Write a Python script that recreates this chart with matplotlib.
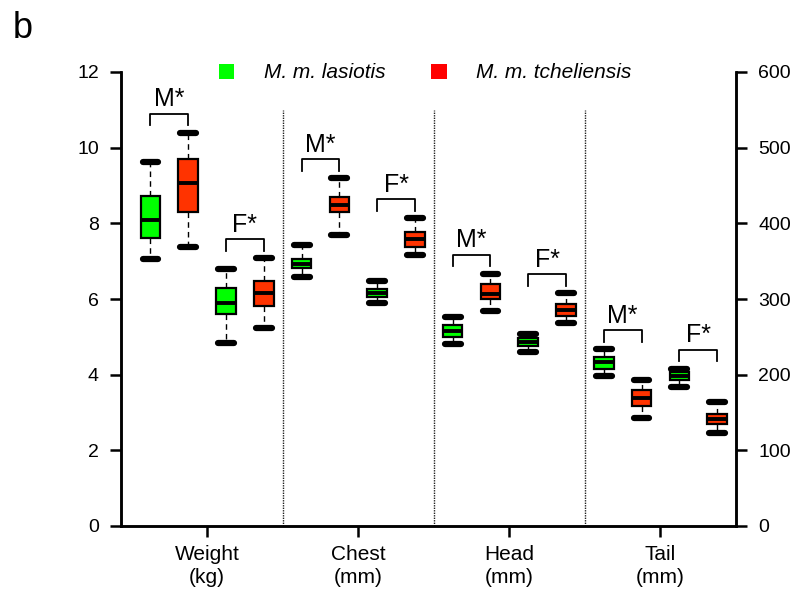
import matplotlib
matplotlib.use("Agg")
import matplotlib.pyplot as plt
from matplotlib.patches import Patch

plt.rcParams['font.family'] = ['Liberation Sans', 'DejaVu Sans']

categories = ['Weight\n(kg)', 'Chest\n(mm)', 'Head\n(mm)', 'Tail\n(mm)']
species = ['M. m. lasiotis', 'M. m. tcheliensis']
sexes = ['M*', 'F*']

# box stats per category: [whislo, q1, med, q3, whishi]
# order: lasiotis M, tcheliensis M, lasiotis F, tcheliensis F
weight_kg = [
    [7.05, 7.60, 8.09, 8.72, 9.61],
    [7.37, 8.29, 9.06, 9.70, 10.40],
    [4.85, 5.60, 5.89, 6.30, 6.80],
    [5.23, 5.81, 6.16, 6.48, 7.08],
]
chest_mm = [
    [328.5, 340.5, 346.5, 353.5, 372.0],
    [384.5, 415.5, 424.5, 435.0, 459.5],
    [294.5, 302.5, 308.0, 313.5, 324.0],
    [358.0, 369.0, 379.0, 388.5, 406.5],
]
head_mm = [
    [241.0, 250.0, 258.0, 266.0, 276.5],
    [284.0, 299.5, 307.0, 320.0, 333.5],
    [230.0, 238.0, 243.5, 249.0, 254.0],
    [268.5, 278.0, 285.5, 294.0, 308.0],
]
tail_mm = [
    [198.0, 208.0, 216.5, 224.0, 233.5],
    [143.0, 158.5, 169.0, 180.0, 193.0],
    [183.5, 192.5, 198.5, 203.5, 208.0],
    [123.5, 134.5, 141.0, 148.5, 163.5],
]

box_colors = ['#00ff00', '#ff3300', '#00ff00', '#ff3300']
legend_colors = ['#00ff00', '#ff0000']
offsets = [-0.375, -0.125, 0.125, 0.375]

fig = plt.figure(figsize=(7.95, 5.89), dpi=100)
ax = fig.add_axes([121 / 795, 1 - 526 / 589, 615 / 795, 454 / 589])
ax2 = ax.twinx()


def draw_group(axis, i, data, scale):
    stats = []
    for d in data:
        stats.append({'whislo': d[0], 'q1': d[1], 'med': d[2], 'q3': d[3],
                      'whishi': d[4], 'fliers': []})
    pos = [i + o for o in offsets]
    bp = axis.bxp(stats, positions=pos, widths=0.13, patch_artist=True,
                  showfliers=False, manage_ticks=False,
                  boxprops=dict(edgecolor='black', linewidth=1.6),
                  medianprops=dict(color='black', linewidth=2.8),
                  whiskerprops=dict(color='black', linewidth=1.0, linestyle=(0, (4, 3))),
                  capprops=dict(color='black', linewidth=4.5, solid_capstyle='round'),
                  capwidths=0.105)
    for patch, c in zip(bp['boxes'], box_colors):
        patch.set_facecolor(c)
    # significance brackets
    for k in range(2):
        top = max(data[2 * k][4], data[2 * k + 1][4]) + 0.5 * scale
        x0, x1 = pos[2 * k], pos[2 * k + 1]
        axis.plot([x0, x0, x1, x1], [top - 0.31 * scale, top, top, top - 0.31 * scale],
                  color='black', linewidth=1.3, clip_on=False)
        axis.text((x0 + x1) / 2, top + 0.06 * scale, sexes[k], ha='center',
                  va='bottom', fontsize=18)


draw_group(ax, 0, weight_kg, 1)
for i, d in enumerate([chest_mm, head_mm, tail_mm], start=1):
    draw_group(ax2, i, d, 50)

for xd in [0.5, 1.5, 2.5]:
    ax.plot([xd, xd], [0, 11], color='#222222', linewidth=1.0, linestyle=(0, (1, 0.8)))

ax.set_xlim(-0.57, 3.5)
ax.set_ylim(0, 12)
ax2.set_ylim(0, 600)
ax.set_yticks(range(0, 13, 2))
ax2.set_yticks(range(0, 601, 100))
ax.set_xticks(range(4))
ax.set_xticklabels(categories, fontsize=15, linespacing=1.25)

for a in (ax, ax2):
    a.spines['top'].set_visible(False)
    for s in a.spines.values():
        s.set_linewidth(1.8)
    a.tick_params(axis='both', length=8, width=1.8, labelsize=14, pad=6)
ax.tick_params(axis='x', labelsize=15)
ax.tick_params(axis='y', pad=8)
ax2.tick_params(axis='y', pad=8)

handles = [Patch(facecolor=c, edgecolor='none') for c in legend_colors]
leg = fig.legend(handles, species, loc='center', bbox_to_anchor=(425 / 795, 1 - 73 / 589),
                 ncol=2, frameon=False, handlelength=0.75, handleheight=0.75,
                 handletextpad=1.4, columnspacing=2.2, borderpad=0,
                 prop={'size': 15, 'style': 'italic'})

fig.text(13 / 795, 1 - 11 / 589, 'b', fontsize=26, ha='left', va='top')

fig.savefig('out.png', dpi=100)
